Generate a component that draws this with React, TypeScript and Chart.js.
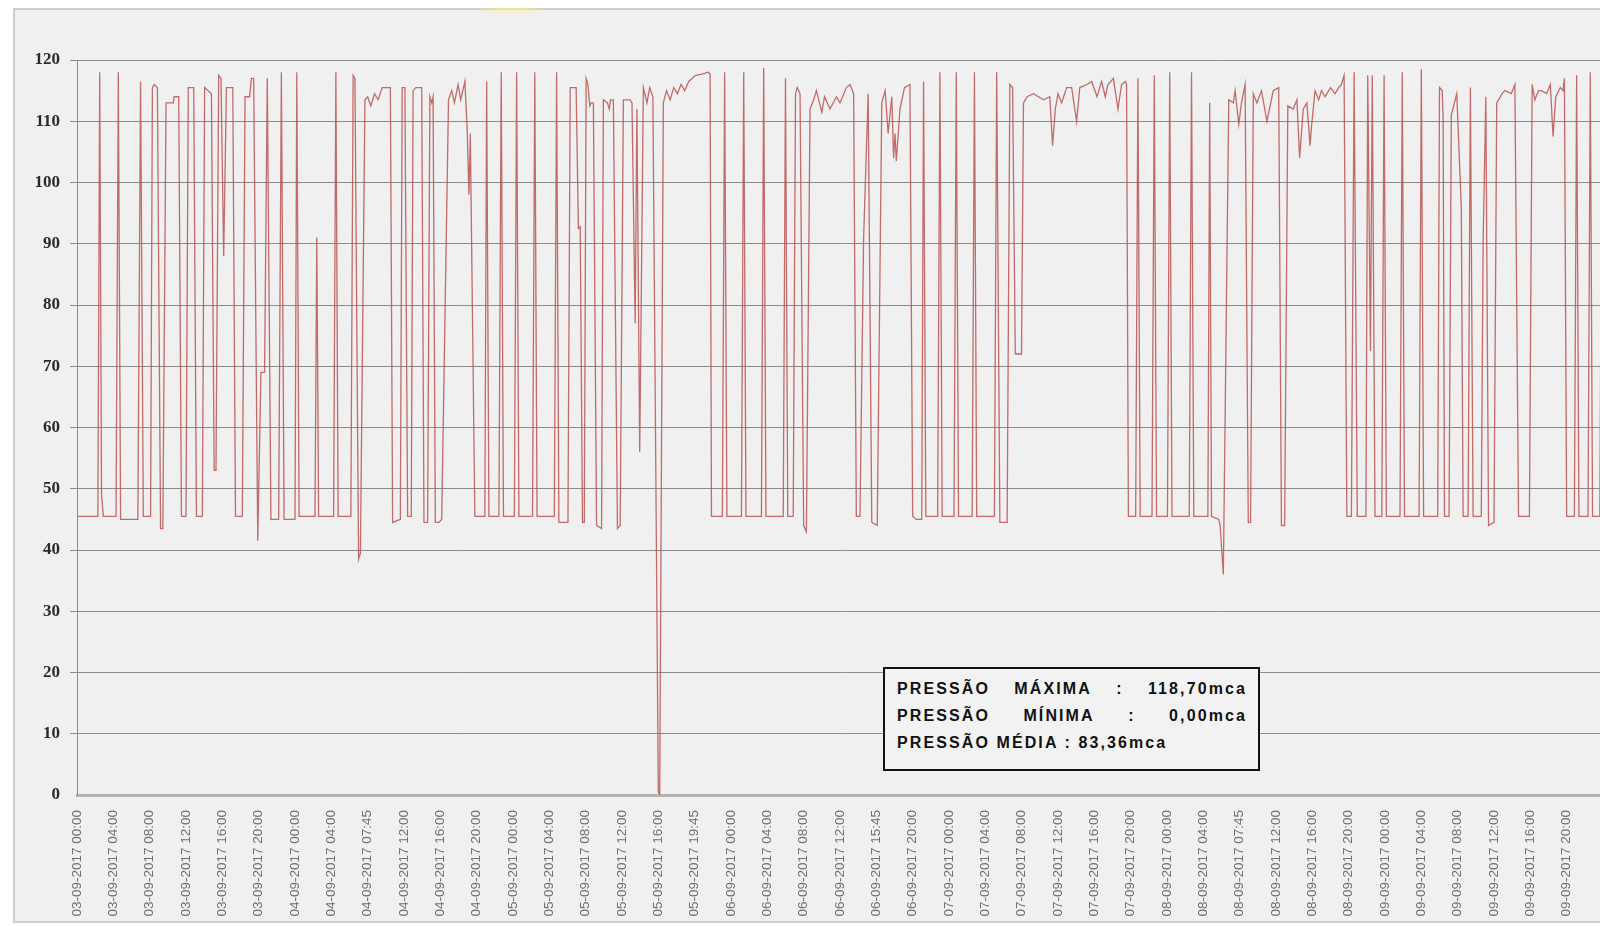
import React, { useEffect, useRef } from "react";
import { Chart, registerables } from "chart.js";

Chart.register(...registerables);

// X-axis tick labels, one every 4 hours of the series
const tickLabels = [
  "03-09-2017 00:00", "03-09-2017 04:00", "03-09-2017 08:00", "03-09-2017 12:00", "03-09-2017 16:00", "03-09-2017 20:00",
  "04-09-2017 00:00", "04-09-2017 04:00", "04-09-2017 07:45", "04-09-2017 12:00", "04-09-2017 16:00", "04-09-2017 20:00",
  "05-09-2017 00:00", "05-09-2017 04:00", "05-09-2017 08:00", "05-09-2017 12:00", "05-09-2017 16:00", "05-09-2017 19:45",
  "06-09-2017 00:00", "06-09-2017 04:00", "06-09-2017 08:00", "06-09-2017 12:00", "06-09-2017 15:45", "06-09-2017 20:00",
  "07-09-2017 00:00", "07-09-2017 04:00", "07-09-2017 08:00", "07-09-2017 12:00", "07-09-2017 16:00", "07-09-2017 20:00",
  "08-09-2017 00:00", "08-09-2017 04:00", "08-09-2017 07:45", "08-09-2017 12:00", "08-09-2017 16:00", "08-09-2017 20:00",
  "09-09-2017 00:00", "09-09-2017 04:00", "09-09-2017 08:00", "09-09-2017 12:00", "09-09-2017 16:00", "09-09-2017 20:00",
];
const tickStepHours = 4;
const totalHours = 168;

// Pressure readings: [hours since 03-09-2017 00:00, pressure in mca]
const day03: [number, number][] = [
  [0, 45.5], [2.3, 45.5], [2.5, 118], [2.7, 49], [2.9, 45.5], [4.3, 45.5], [4.55, 118], [4.8, 45], [6.7, 45], [7.0, 116.5],
  [7.3, 45.5], [8.1, 45.5], [8.3, 115.5], [8.5, 116], [8.85, 115.5], [9.2, 43.5], [9.45, 43.5], [9.8, 113], [10.6, 113], [10.7, 114],
  [11.2, 114], [11.5, 45.5], [12.0, 45.5], [12.25, 115.5], [12.85, 115.5], [13.15, 45.5], [13.8, 45.5], [14.05, 115.5], [14.8, 114.5], [15.1, 53],
  [15.3, 53], [15.6, 117.5], [15.85, 117], [16.15, 88], [16.45, 115.5], [17.15, 115.5], [17.45, 45.5], [18.2, 45.5], [18.5, 114], [19.0, 114],
  [19.2, 117], [19.45, 117], [19.9, 41.5], [20.25, 69], [20.65, 69], [20.95, 117], [21.35, 45], [22.2, 45], [22.5, 118], [22.8, 45],
];
const day04: [number, number][] = [
  [24.0, 45], [24.2, 118], [24.45, 45.5], [26.2, 45.5], [26.4, 91], [26.6, 45.5], [28.25, 45.5], [28.5, 118], [28.75, 45.5], [30.15, 45.5],
  [30.4, 117.5], [30.6, 117], [31.0, 38.5], [31.2, 39.5], [31.7, 113.5], [32.0, 114], [32.35, 112.5], [32.75, 114.5], [33.15, 113.5], [33.6, 115.5],
  [34.5, 115.5], [34.75, 44.5], [35.6, 45], [35.8, 115.5], [36.1, 115.5], [36.4, 45.5], [36.8, 45.5], [37.0, 115], [37.3, 115.5], [37.95, 115.5],
  [38.2, 44.5], [38.6, 44.5], [38.85, 114], [39.05, 113], [39.2, 114], [39.45, 44.5], [39.85, 44.5], [40.15, 45], [40.9, 113.5], [41.25, 115],
  [41.55, 113], [41.95, 116], [42.25, 113.5], [42.7, 116.5], [42.95, 109], [43.15, 98], [43.3, 108], [43.8, 45.5], [44.9, 45.5], [45.1, 116.5],
  [45.35, 45.5], [46.45, 45.5], [46.7, 118], [46.95, 45.5],
];
const day05: [number, number][] = [
  [48.15, 45.5], [48.4, 118], [48.65, 45.5], [50.15, 45.5], [50.4, 118], [50.65, 45.5], [52.55, 45.5], [52.8, 118], [53.05, 44.5], [54.05, 44.5],
  [54.3, 115.5], [54.95, 115.5], [55.2, 92.5], [55.4, 92.8], [55.65, 44.5], [55.85, 44.5], [56.05, 117], [56.25, 116], [56.45, 112.5], [56.6, 113],
  [56.85, 113], [57.2, 44], [57.75, 43.5], [57.95, 113.5], [58.4, 113], [58.6, 112], [58.75, 113.5], [59.05, 113.5], [59.5, 43.5], [59.8, 44],
  [60.15, 113.5], [60.9, 113.5], [61.1, 113], [61.45, 77], [61.64, 112], [61.95, 56], [62.35, 115.5], [62.75, 113], [63.05, 115.5], [63.4, 114],
  [64.0, 0.5], [64.15, 0], [64.55, 113], [64.9, 115], [65.3, 113.5], [65.7, 115.5], [66.1, 114.5], [66.5, 116], [66.9, 115], [67.35, 116.5],
  [68.1, 117.5], [68.8, 117.7], [69.5, 118], [69.7, 117.7], [69.85, 45.5], [71.05, 45.5], [71.3, 118], [71.55, 45.5],
];
const day06: [number, number][] = [
  [73.15, 45.5], [73.4, 118], [73.65, 45.5], [75.35, 45.5], [75.6, 118.7], [75.85, 45.5], [77.75, 45.5], [78.0, 117], [78.25, 45.5], [78.85, 45.5],
  [79.1, 114.5], [79.3, 115.5], [79.6, 114.5], [80.0, 44], [80.3, 43], [80.7, 112], [81.1, 113.5], [81.4, 115], [82.0, 111.5], [82.3, 114],
  [82.9, 112], [83.6, 114], [84.0, 113], [84.7, 115.5], [85.1, 116], [85.5, 114.5], [85.8, 45.5], [86.2, 45.5], [86.6, 91], [87.1, 114.5],
  [87.5, 44.5], [88.1, 44], [88.6, 113], [88.97, 115], [89.3, 108], [89.7, 114], [89.9, 104], [90.06, 108], [90.2, 103.5], [90.6, 112],
  [91.1, 115.5], [91.7, 116], [92.0, 45.5], [92.4, 45], [93.0, 45], [93.2, 116.5], [93.45, 45.5], [94.75, 45.5], [95.0, 118], [95.25, 45.5],
];
const day07: [number, number][] = [
  [96.55, 45.5], [96.8, 118], [97.05, 45.5], [98.55, 45.5], [98.8, 118], [99.05, 45.5], [101.0, 45.5], [101.25, 118], [101.6, 44.5], [102.4, 44.5],
  [102.7, 116], [103.0, 115.5], [103.3, 72], [103.98, 72], [104.2, 113], [104.6, 114], [105.3, 114.5], [106.4, 113.5], [107.1, 114], [107.4, 106],
  [107.7, 112], [108.0, 114.5], [108.4, 113], [108.95, 115.5], [109.5, 115.5], [110.05, 110], [110.4, 115.5], [111.2, 116], [111.7, 116.5], [112.3, 114],
  [112.8, 116.5], [113.2, 114], [113.5, 116], [114.1, 117], [114.6, 112], [115.0, 116], [115.4, 116.5], [115.55, 116], [115.75, 45.5], [116.55, 45.5],
  [116.8, 117], [117.05, 45.5], [118.35, 45.5], [118.6, 117.5], [118.85, 45.5],
];
const day08: [number, number][] = [
  [120.05, 45.5], [120.3, 118], [120.55, 45.5], [122.45, 45.5], [122.7, 118], [122.95, 45.5], [124.5, 45.5], [124.7, 113], [124.9, 45.5], [125.7, 45],
  [125.85, 44], [126.2, 36], [126.8, 113.5], [127.3, 113], [127.5, 115], [127.9, 109.5], [128.2, 113], [128.6, 116], [128.95, 44.5], [129.2, 44.5],
  [129.5, 114.5], [129.9, 113], [130.4, 115], [131.0, 110], [131.7, 115], [132.3, 115.5], [132.6, 44], [132.95, 44], [133.3, 112.5], [133.9, 112],
  [134.3, 113.5], [134.6, 104], [135.0, 112], [135.4, 113], [135.75, 106], [135.9, 109], [136.3, 115], [136.7, 113.5], [137.0, 115], [137.4, 114],
  [138.0, 115.5], [138.5, 114.5], [138.9, 115.5], [139.2, 116], [139.5, 117.5], [139.8, 45.5], [140.3, 45.5], [140.6, 118], [140.95, 45.5], [141.9, 45.5],
  [142.1, 117.5], [142.4, 72.5], [142.6, 117.5], [142.9, 45.5], [143.65, 45.5], [143.9, 117.5], [144.15, 45.5],
];
const day09: [number, number][] = [
  [145.65, 45.5], [145.9, 118], [146.15, 45.5], [147.75, 45.5], [148.0, 118.5], [148.25, 45.5], [149.8, 45.5], [150.0, 115.5], [150.3, 115], [150.4, 110.5],
  [150.55, 45.5], [151.05, 45.5], [151.3, 111], [151.9, 114.5], [152.4, 96], [152.6, 45.5], [153.15, 45.5], [153.4, 115.5], [153.7, 45.5], [154.6, 45.5],
  [154.8, 90], [155.1, 114], [155.4, 44], [156.0, 44.5], [156.3, 113], [156.9, 114.5], [157.2, 115], [157.9, 114.5], [158.3, 116], [158.7, 45.5],
  [159.9, 45.5], [160.2, 116], [160.5, 113.5], [160.9, 115], [161.2, 115], [161.8, 114.5], [162.2, 116], [162.5, 107.5], [162.8, 114], [163.3, 115.5],
  [163.6, 115], [163.75, 117], [164.0, 45.5], [164.85, 45.5], [165.1, 117.5], [165.35, 45.5], [166.35, 45.5], [166.6, 118], [166.85, 45.5], [167.65, 45.5],
  [167.9, 117], [168, 116],
];

// Summary box text
const statRows: string[][] = [
  ["PRESSÃO", "MÁXIMA", ":", "118,70mca"],
  ["PRESSÃO", "MÍNIMA", ":", "0,00mca"],
];
const statAverage = "PRESSÃO MÉDIA : 83,36mca";

const FRAME_W = 1600;
const FRAME_H = 915;
const BORDER = 2;
const CANVAS_W = FRAME_W - BORDER * 2;
const CANVAS_H = FRAME_H - BORDER * 2;

export default function App() {
  const canvasRef = useRef<HTMLCanvasElement | null>(null);

  useEffect(() => {
    document.documentElement.style.overflow = "hidden";
    const canvas = canvasRef.current;
    if (!canvas) return;
    const points = [...day03, ...day04, ...day05, ...day06, ...day07, ...day08, ...day09].map(([x, y]) => ({ x, y }));

    const chart = new Chart(canvas, {
      type: "line",
      data: {
        datasets: [
          {
            data: points,
            borderColor: "rgba(188, 88, 88, 0.88)",
            borderWidth: 1.3,
            pointRadius: 0,
            tension: 0,
            fill: false,
          },
        ],
      },
      options: {
        animation: false,
        responsive: false,
        maintainAspectRatio: false,
        devicePixelRatio: 1,
        layout: { padding: { left: 0, top: 50, right: 8, bottom: 0 } },
        plugins: {
          legend: { display: false },
          tooltip: { enabled: false },
          title: { display: false },
        },
        scales: {
          x: {
            type: "linear",
            min: 0,
            max: totalHours,
            afterBuildTicks: (scale: any) => {
              scale.ticks = tickLabels.map((_, i) => ({ value: i * tickStepHours }));
            },
            afterFit: (scale: any) => {
              scale.height = 126;
            },
            grid: { display: false, drawTicks: false },
            border: { display: true, color: "#b4b4b4", width: 3 },
            ticks: {
              autoSkip: false,
              minRotation: 90,
              maxRotation: 90,
              padding: 15,
              color: "#707070",
              font: { family: "'Liberation Sans', Arial, sans-serif", size: 13.5 },
              callback: (_v: any, i: number) => tickLabels[i] ?? "",
            },
          },
          y: {
            min: 0,
            max: 120,
            afterFit: (scale: any) => {
              scale.width = 62;
            },
            grid: {
              color: (ctx: any) => (ctx.tick && ctx.tick.value === 0 ? "rgba(0,0,0,0)" : "#8c8c8c"),
              lineWidth: 1,
              drawTicks: true,
              tickLength: 7,
            },
            border: { display: true, color: "#8c8c8c", width: 1 },
            ticks: {
              stepSize: 10,
              padding: 10,
              color: "#2a2a2a",
              font: { family: "'Liberation Serif', 'Times New Roman', serif", size: 17, weight: "bold" },
            },
          },
        },
      },
    } as any);

    return () => {
      chart.destroy();
    };
  }, []);

  return (
    <div style={{ position: "relative", height: FRAME_H }}>
      <div
        style={{
          position: "absolute",
          left: 5,
          top: 0,
          width: FRAME_W,
          height: FRAME_H,
          boxSizing: "border-box",
          border: `${BORDER}px solid #cdcdcd`,
          background: "#f0f0f0",
        }}
      >
        <canvas
          ref={canvasRef}
          width={CANVAS_W}
          height={CANVAS_H}
          style={{ display: "block", width: CANVAS_W, height: CANVAS_H }}
        />
      </div>
      <div
        style={{
          position: "absolute",
          left: 474,
          top: -8,
          width: 56,
          height: 7,
          zIndex: 3,
          pointerEvents: "none",
          borderRadius: "0 0 40% 40%",
          background: "rgb(255, 240, 120)",
          boxShadow: "0 0 6px 3px rgba(255, 240, 130, 0.85)",
        }}
      />
      <div
        style={{
          position: "absolute",
          left: 875,
          top: 659,
          width: 377,
          height: 104,
          boxSizing: "border-box",
          border: "2px solid #111",
          background: "#f2f2f2",
          padding: "6px 11px 13px 12px",
          fontFamily: "'Liberation Sans', Arial, sans-serif",
          fontWeight: "bold",
          fontSize: 16,
          letterSpacing: "2.1px",
          lineHeight: "27px",
          color: "#111",
          whiteSpace: "nowrap",
        }}
      >
        {statRows.map((row, r) => (
          <div key={r} style={{ display: "flex", justifyContent: "space-between" }}>
            {row.map((part, i) => (
              <span key={i}>{part}</span>
            ))}
          </div>
        ))}
        <div>{statAverage}</div>
      </div>
    </div>
  );
}
